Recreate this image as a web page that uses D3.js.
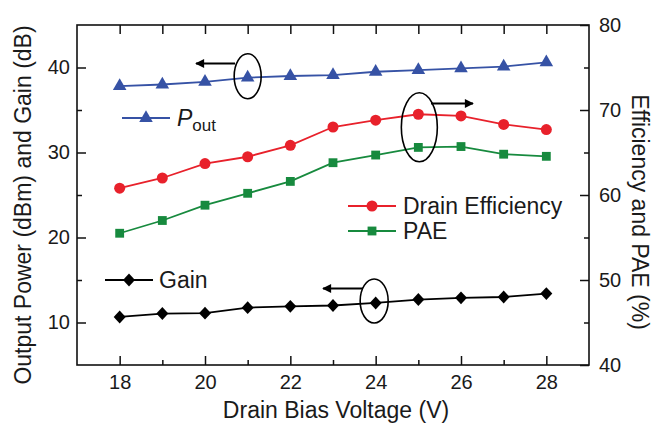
<!DOCTYPE html>
<html>
<head>
<meta charset="utf-8">
<script src="https://cdn.jsdelivr.net/npm/d3@7"></script>
<style>
body { margin: 0; background: #fff; }
svg text { font-family: "Liberation Sans", Arial, sans-serif; fill: #1a1a1a; }
</style>
</head>
<body>
<svg id="chart" width="668" height="426"></svg>
<script>
// values
var voltage  = [18, 19, 20, 21, 22, 23, 24, 25, 26, 27, 28];
var pout     = [37.8, 38.0, 38.3, 38.8, 39.0, 39.1, 39.5, 39.7, 39.9, 40.1, 40.6];
var gain     = [10.65, 11.05, 11.1, 11.75, 11.9, 12.0, 12.3, 12.7, 12.9, 13.0, 13.4];
var drainEff = [60.8, 62.0, 63.7, 64.5, 65.85, 68.0, 68.8, 69.5, 69.3, 68.3, 67.7];
var pae      = [55.5, 57.0, 58.8, 60.2, 61.6, 63.8, 64.7, 65.6, 65.7, 64.8, 64.55];

var xTicks = [18, 20, 22, 24, 26, 28];
var xMinor = [19, 21, 23, 25, 27];
var leftTicks = [10, 20, 30, 40];
var leftMinor = [15, 25, 35];
var rightTicks = [40, 50, 60, 70, 80];
var rightMinor = [45, 55, 65, 75];

var L = 77, R = 589, T = 25, B = 365;

var xs = d3.scaleLinear().domain([17, 29]).range([L, R]);
var yl = d3.scaleLinear().domain([5, 45]).range([B, T]);
var yr = d3.scaleLinear().domain([40, 80]).range([B, T]);

var svg = d3.select('#chart');

// diamond = square turned 45 deg
var diamond = {
    draw: function(ctx, size) {
        var h = Math.sqrt(size) / 2 * 1.05;
        ctx.moveTo(0, -h * 1.08);
        ctx.lineTo(h, 0);
        ctx.lineTo(0, h * 1.08);
        ctx.lineTo(-h, 0);
        ctx.closePath();
    }
};

var series = [
    {name: 'pout', vals: pout, y: yl, color: '#3652a5', sym: d3.symbolTriangle, size: 80, dy: 0},
    {name: 'de',   vals: drainEff, y: yr, color: '#e8212b', sym: d3.symbolCircle, size: 95, dy: 0},
    {name: 'pae',  vals: pae, y: yr, color: '#178a3e', sym: d3.symbolSquare, size: 78, dy: 0},
    {name: 'gain', vals: gain, y: yl, color: '#000000', sym: diamond, size: 130, dy: 0}
];

// axes (ticks pointing in)
function noDomain(g) { g.select('.domain').remove(); }

svg.append('g')
    .attr('transform', 'translate(0,' + B + ')')
    .call(d3.axisBottom(xs).tickValues(xTicks).tickSizeInner(-9).tickSizeOuter(0).tickPadding(10).tickFormat(d3.format('d')))
    .call(noDomain)
    .selectAll('text').style('font-size', '20px');
svg.append('g')
    .attr('transform', 'translate(0,' + B + ')')
    .call(d3.axisBottom(xs).tickValues(xMinor).tickSizeInner(-5).tickSizeOuter(0).tickFormat(''))
    .call(noDomain);
svg.append('g')
    .attr('transform', 'translate(0,' + T + ')')
    .call(d3.axisTop(xs).tickValues(xTicks.concat(xMinor)).tickSizeInner(-9).tickSizeOuter(0).tickFormat(''))
    .call(noDomain);

svg.append('g')
    .attr('transform', 'translate(' + L + ',0)')
    .call(d3.axisLeft(yl).tickValues(leftTicks).tickSizeInner(-9).tickSizeOuter(0).tickPadding(7))
    .call(noDomain)
    .selectAll('text').style('font-size', '20px');
svg.append('g')
    .attr('transform', 'translate(' + L + ',0)')
    .call(d3.axisLeft(yl).tickValues(leftMinor).tickSizeInner(-5).tickSizeOuter(0).tickFormat(''))
    .call(noDomain);

svg.append('g')
    .attr('transform', 'translate(' + R + ',0)')
    .call(d3.axisRight(yr).tickValues(rightTicks).tickSizeInner(-9).tickSizeOuter(0).tickPadding(10))
    .call(noDomain)
    .selectAll('text').style('font-size', '20px');
svg.append('g')
    .attr('transform', 'translate(' + R + ',0)')
    .call(d3.axisRight(yr).tickValues(rightMinor).tickSizeInner(-5).tickSizeOuter(0).tickFormat(''))
    .call(noDomain);

svg.selectAll('.tick line').attr('stroke', '#111').attr('stroke-width', 1.5);

svg.append('rect')
    .attr('x', L).attr('y', T)
    .attr('width', R - L).attr('height', B - T)
    .attr('fill', 'none').attr('stroke', '#111').attr('stroke-width', 1.6);

// lines + markers
series.forEach(function(s) {
    var line = d3.line()
        .x(function(d, i) { return xs(voltage[i]); })
        .y(function(d) { return s.y(d); });
    svg.append('path')
        .datum(s.vals)
        .attr('d', line)
        .attr('fill', 'none')
        .attr('stroke', s.color)
        .attr('stroke-width', 1.8);
    svg.append('g').selectAll('path')
        .data(s.vals)
        .enter()
        .append('path')
        .attr('transform', function(d, i) { return 'translate(' + xs(voltage[i]) + ',' + s.y(d) + ')'; })
        .attr('d', d3.symbol().type(s.sym).size(s.size))
        .attr('fill', s.color);
});

// legend entries
function legendItem(s, x0, y0) {
    svg.append('line')
        .attr('x1', x0).attr('x2', x0 + 48)
        .attr('y1', y0).attr('y2', y0)
        .attr('stroke', s.color).attr('stroke-width', 1.8);
    svg.append('path')
        .attr('transform', 'translate(' + (x0 + 24) + ',' + y0 + ')')
        .attr('d', d3.symbol().type(s.sym).size(s.size))
        .attr('fill', s.color);
}
legendItem(series[0], 122, 118);
var pt = svg.append('text').attr('x', 177).attr('y', 126).style('font-size', '23px');
pt.append('tspan').style('font-style', 'italic').text('P');
pt.append('tspan').attr('dy', 5).style('font-size', '17px').text('out');

legendItem(series[1], 348, 206);
svg.append('text').attr('x', 403).attr('y', 214).style('font-size', '23px').text('Drain Efficiency');
legendItem(series[2], 348, 231);
svg.append('text').attr('x', 403).attr('y', 239).style('font-size', '23px').text('PAE');
legendItem(series[3], 105, 280);
svg.append('text').attr('x', 159).attr('y', 288).style('font-size', '23px').text('Gain');

// ellipses and arrows pointing to the matching axis
svg.append('defs').append('marker')
    .attr('id', 'ah')
    .attr('viewBox', '0 0 10 10')
    .attr('refX', 9).attr('refY', 5)
    .attr('markerWidth', 11).attr('markerHeight', 9)
    .attr('markerUnits', 'userSpaceOnUse')
    .attr('orient', 'auto')
    .append('path').attr('d', 'M0,0 L10,5 L0,10 Z').attr('fill', '#000');

function callout(cx, cy, rx, ry, x1, x2, ya) {
    svg.append('ellipse')
        .attr('cx', cx).attr('cy', cy).attr('rx', rx).attr('ry', ry)
        .attr('fill', 'none').attr('stroke', '#000').attr('stroke-width', 1.6);
    svg.append('line')
        .attr('x1', x1).attr('x2', x2).attr('y1', ya).attr('y2', ya)
        .attr('stroke', '#000').attr('stroke-width', 1.8)
        .attr('marker-end', 'url(#ah)');
}
callout(xs(21), yl(pout[3]) - 1.5, 13.5, 22.5, 235, 196, 63.5);
callout(xs(25) + 1, yr(drainEff[7]) + 13, 18, 34.5, 431, 473, 103.5);
callout(xs(24) - 1.5, yl(gain[6]) - 2, 14, 22, 363, 323, 288.5);

// axis titles
svg.append('text')
    .attr('transform', 'translate(31,' + 205 + ') rotate(-90)')
    .attr('text-anchor', 'middle')
    .style('font-size', '23px')
    .text('Output Power (dBm) and Gain (dB)');
svg.append('text')
    .attr('transform', 'translate(632,' + 212 + ') rotate(90)')
    .attr('text-anchor', 'middle')
    .style('font-size', '23px')
    .text('Efficiency and PAE (%)');
svg.append('text')
    .attr('x', (L + R) / 2 + 3).attr('y', 418)
    .attr('text-anchor', 'middle')
    .style('font-size', '23px')
    .text('Drain Bias Voltage (V)');
</script>
</body>
</html>
